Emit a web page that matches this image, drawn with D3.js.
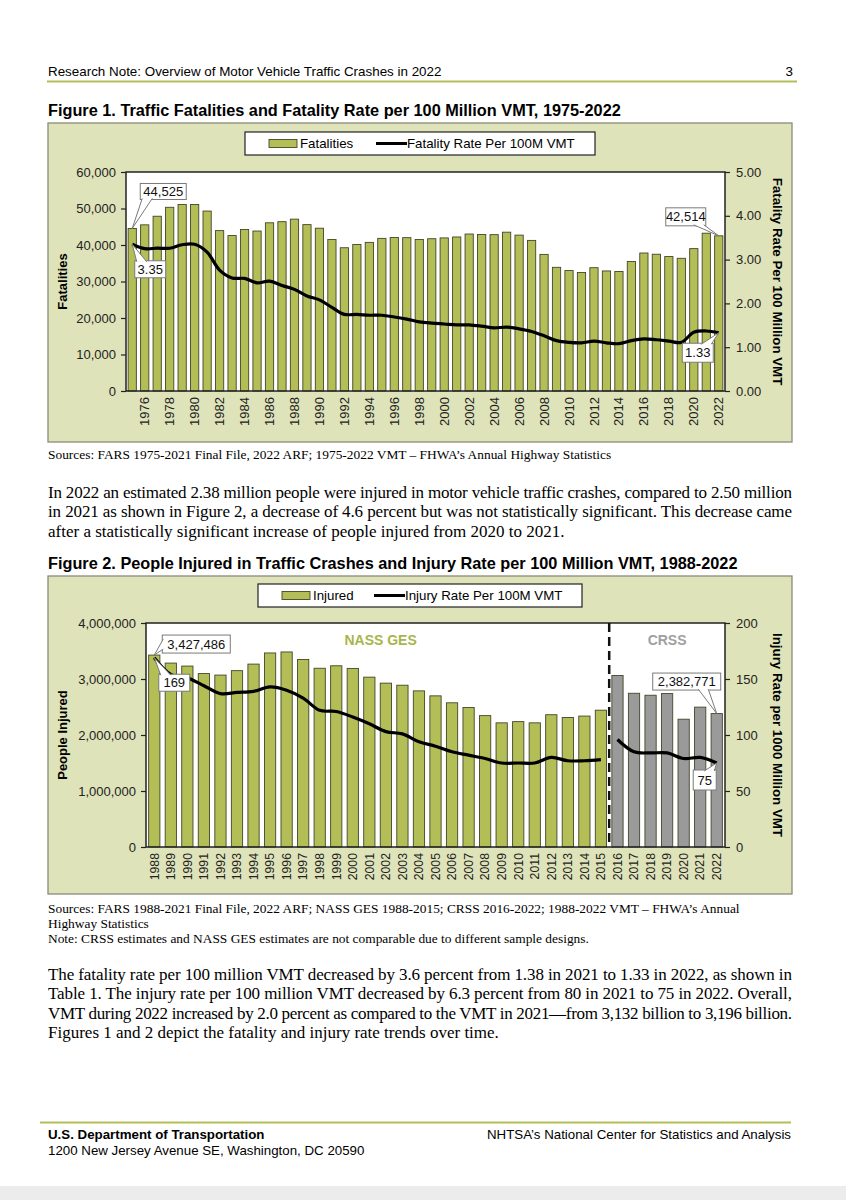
<!DOCTYPE html>
<html>
<head>
<meta charset="utf-8">
<script src="https://cdn.jsdelivr.net/npm/d3@7"></script>
<style>
  body { margin: 0; background: #fff; }
  svg { display: block; }
</style>
</head>
<body>
<div id="page"></div>
<script>
// Figure 1 data (1975-2022)
const years1 = d3.range(1975, 2023);
const fatalities = [44525, 45523, 47878, 50331, 51093, 51091, 49301, 43945, 42589, 44257,
  43825, 46087, 46390, 47087, 45582, 44599, 41508, 39250, 40150, 40716,
  41817, 42065, 42013, 41501, 41717, 41945, 42196, 43005, 42884, 42836,
  43510, 42708, 41259, 37423, 33883, 32999, 32479, 33782, 32893, 32744,
  35484, 37806, 37473, 36835, 36355, 39007, 43230, 42514];
const fatalityRate = [3.35, 3.25, 3.26, 3.26, 3.34, 3.35, 3.17, 2.76, 2.58, 2.57,
  2.47, 2.51, 2.41, 2.32, 2.17, 2.08, 1.91, 1.75, 1.75, 1.73,
  1.73, 1.69, 1.64, 1.58, 1.55, 1.53, 1.51, 1.51, 1.48, 1.44,
  1.46, 1.42, 1.36, 1.26, 1.15, 1.11, 1.10, 1.14, 1.10, 1.08,
  1.15, 1.19, 1.17, 1.14, 1.11, 1.34, 1.37, 1.33];
const fatalTicks = [0, 10000, 20000, 30000, 40000, 50000, 60000];
const fatalRateTicks = [0, 1, 2, 3, 4, 5];

// Figure 2 data (1988-2022); NASS GES to 2015, CRSS from 2016
const years2 = d3.range(1988, 2023);
const injured = [3427486, 3284000, 3231000, 3097000, 3070000, 3149000, 3266000, 3465000, 3483000, 3348000,
  3192000, 3236000, 3189000, 3033000, 2926000, 2889000, 2788000, 2699000, 2575000, 2491000,
  2346000, 2217000, 2239000, 2217000, 2362000, 2313000, 2338000, 2443000,
  3062000, 2745000, 2710000, 2740000, 2282000, 2497657, 2382771];
const injuryRate = [169, 154, 151, 144, 137, 138, 139, 143, 140, 133,
  122, 121, 116, 110, 103, 101, 94, 90, 85, 82,
  79, 75, 75, 75, 80, 77, 77, 78,
  96, 85, 84, 84, 79, 80, 75];
const injTicks = [0, 1000000, 2000000, 3000000, 4000000];
const injRateTicks = [0, 50, 100, 150, 200];
const crssStart = 2016;

const W = 846, H = 1200;
const olive = "#b3be56", barStroke = "#45452a", chartBg = "#dfe3b9", grey = "#9a9a9a";
const sans = "'Liberation Sans', Arial, sans-serif";
const serif = "'Liberation Serif', 'Times New Roman', serif";
const narrow = "'Liberation Sans Narrow', 'Arial Narrow', 'Liberation Sans', sans-serif";

const svg = d3.select("#page").append("svg")
  .attr("width", W).attr("height", H)
  .attr("viewBox", [0, 0, W, H]);

svg.append("rect").attr("width", W).attr("height", H).attr("fill", "#fff");

// page header
svg.append("text").attr("x", 48).attr("y", 76)
  .style("font-family", sans).style("font-size", "13.4px")
  .text("Research Note: Overview of Motor Vehicle Traffic Crashes in 2022");
svg.append("text").attr("x", 793).attr("y", 76).attr("text-anchor", "end")
  .style("font-family", sans).style("font-size", "13.4px").text("3");
svg.append("line").attr("x1", 47).attr("x2", 797).attr("y1", 81.5).attr("y2", 81.5)
  .attr("stroke", olive).attr("stroke-width", 2);

function figTitle(y, txt) {
  svg.append("text").attr("x", 48).attr("y", y)
    .style("font-family", sans).style("font-size", "16.3px").style("font-weight", "bold")
    .text(txt);
}

function textLines(x, y0, step, lines, size, justifyTo) {
  lines.forEach((l, i) => {
    const t = svg.append("text").attr("x", x).attr("y", y0 + i * step)
      .style("font-family", serif).style("font-size", size + "px").text(l.text);
    if (l.full && justifyTo) t.attr("textLength", justifyTo - x).attr("lengthAdjust", "spacing");
  });
}

// callout box with a pointer wedge toward (tx, ty)
function callout(g, tx, ty, dx, dy, w, h, txt) {
  const cx = tx + dx, cy = ty + dy;
  const bx = cx - w / 2, by = cy - h / 2;
  g.append("rect").attr("x", bx).attr("y", by).attr("width", w).attr("height", h)
    .attr("fill", "#fff").attr("stroke", "#7a7a7a").attr("stroke-width", 1);
  let b1, b2;
  const hw = Math.min(5, w / 4);
  if (Math.abs(dy) * w > Math.abs(dx) * h) {
    const ey = dy > 0 ? by + 1 : by + h - 1;
    const ex = Math.max(bx + hw + 2, Math.min(bx + w - hw - 2, cx - dx * 0.55));
    b1 = [ex - hw, ey]; b2 = [ex + hw, ey];
  } else {
    const ex = dx > 0 ? bx + 1 : bx + w - 1;
    const ey = Math.max(by + hw + 1, Math.min(by + h - hw - 1, cy));
    b1 = [ex, ey - hw]; b2 = [ex, ey + hw];
  }
  g.append("path")
    .attr("d", `M${b1[0]},${b1[1]}L${tx},${ty}L${b2[0]},${b2[1]}`)
    .attr("fill", "#fff").attr("stroke", "#7a7a7a").attr("stroke-width", 1);
  g.append("text").attr("x", cx).attr("y", cy + 4.6).attr("text-anchor", "middle")
    .style("font-family", sans).style("font-size", "13px").attr("fill", "#111")
    .text(txt);
}

function drawChart(cfg) {
  const { box, plot, legend } = cfg;
  const g = svg.append("g");
  g.append("rect").attr("x", box.x).attr("y", box.y).attr("width", box.w).attr("height", box.h)
    .attr("fill", chartBg).attr("stroke", "#8a8a78").attr("stroke-width", 1.3);
  g.append("rect").attr("x", plot.l).attr("y", plot.t)
    .attr("width", plot.r - plot.l).attr("height", plot.b - plot.t).attr("fill", "#fff");

  const x = d3.scaleBand().domain(cfg.years).range([plot.l, plot.r]).paddingInner(cfg.pad).paddingOuter(cfg.pad / 2);
  const yL = d3.scaleLinear().domain(d3.extent(cfg.leftTicks)).range([plot.b, plot.t]);
  const yR = d3.scaleLinear().domain(d3.extent(cfg.rightTicks)).range([plot.b, plot.t]);

  // bars
  g.append("g").selectAll("rect").data(cfg.years).join("rect")
    .attr("x", d => x(d)).attr("width", x.bandwidth())
    .attr("y", (d, i) => yL(cfg.bars[i]))
    .attr("height", (d, i) => plot.b - yL(cfg.bars[i]))
    .attr("fill", d => cfg.barColor(d))
    .attr("stroke", barStroke).attr("stroke-width", 0.9);

  // frame
  g.append("rect").attr("x", plot.l).attr("y", plot.t)
    .attr("width", plot.r - plot.l).attr("height", plot.b - plot.t)
    .attr("fill", "none").attr("stroke", "#222").attr("stroke-width", 1.5);

  if (cfg.divider) {
    const i = cfg.years.indexOf(cfg.divider);
    const dxp = (x(cfg.years[i - 1]) + x.bandwidth() + x(cfg.years[i])) / 2;
    g.append("line").attr("x1", dxp).attr("x2", dxp).attr("y1", plot.t).attr("y2", plot.b)
      .attr("stroke", "#111").attr("stroke-width", 2.5).attr("stroke-dasharray", "9,5");
  }

  // rate line(s)
  const line = d3.line()
    .x(d => x(d.year) + x.bandwidth() / 2)
    .y(d => yR(d.v))
    .curve(d3.curveCatmullRom.alpha(0.5));
  const pts = cfg.years.map((year, i) => ({ year, v: cfg.rate[i] }));
  const segs = cfg.divider
    ? [pts.filter(p => p.year < cfg.divider), pts.filter(p => p.year >= cfg.divider)]
    : [pts];
  g.append("g").selectAll("path").data(segs).join("path")
    .attr("d", line).attr("fill", "none").attr("stroke", "#000").attr("stroke-width", 3.2)
    .attr("stroke-linejoin", "round");

  // axes
  const fmtL = d3.format(",");
  const axL = g.append("g").attr("transform", `translate(${plot.l},0)`)
    .call(d3.axisLeft(yL).tickValues(cfg.leftTicks).tickFormat(fmtL).tickSize(5).tickPadding(5));
  const axR = g.append("g").attr("transform", `translate(${plot.r},0)`)
    .call(d3.axisRight(yR).tickValues(cfg.rightTicks).tickFormat(d3.format(cfg.rightFmt)).tickSize(5).tickPadding(6));
  [axL, axR].forEach(a => {
    a.select(".domain").remove();
    a.selectAll("line").attr("stroke", "#222").attr("stroke-width", 1.2);
    a.selectAll("text").style("font-family", sans).style("font-size", "13px").attr("fill", "#222");
  });
  const axB = g.append("g").attr("transform", `translate(0,${plot.b})`)
    .call(d3.axisBottom(x).tickValues(cfg.xTicks).tickSize(0).tickPadding(0));
  axB.select(".domain").remove();
  axB.selectAll("text")
    .attr("transform", "rotate(-90)").attr("x", -6).attr("y", 0).attr("dy", "0.35em")
    .style("text-anchor", "end").style("font-family", sans).style("font-size", cfg.xFont).attr("fill", "#222");

  // axis titles
  const midY = (plot.t + plot.b) / 2;
  g.append("text").attr("transform", `translate(${cfg.leftTitleX},${midY}) rotate(-90)`)
    .attr("text-anchor", "middle").style("font-family", sans).style("font-size", "13px")
    .style("font-weight", "bold").text(cfg.leftTitle);
  g.append("text").attr("transform", `translate(${cfg.rightTitleX},${midY}) rotate(90)`)
    .attr("text-anchor", "middle").style("font-family", sans).style("font-size", "13.3px")
    .style("font-weight", "bold").text(cfg.rightTitle);

  // legend
  const lg = g.append("g");
  lg.append("rect").attr("x", legend.x).attr("y", legend.y).attr("width", legend.w).attr("height", legend.h)
    .attr("fill", "#fff").attr("stroke", "#222").attr("stroke-width", 1.2);
  const ly = legend.y + legend.h / 2;
  lg.append("rect").attr("x", legend.sw).attr("y", ly - 4).attr("width", 28).attr("height", 8)
    .attr("fill", olive).attr("stroke", barStroke).attr("stroke-width", 0.9);
  lg.append("text").attr("x", legend.sw + 31).attr("y", ly + 4.7)
    .style("font-family", sans).style("font-size", "13.3px").text(cfg.barName);
  lg.append("line").attr("x1", legend.lw).attr("x2", legend.lw + 31).attr("y1", ly).attr("y2", ly)
    .attr("stroke", "#000").attr("stroke-width", 3);
  lg.append("text").attr("x", legend.lw + 31).attr("y", ly + 4.7)
    .style("font-family", sans).style("font-size", "13.3px").text(cfg.lineName);

  return { g, x, yL, yR, cx: d => x(d) + x.bandwidth() / 2 };
}

// ---------- Figure 1 ----------
figTitle(116, "Figure 1. Traffic Fatalities and Fatality Rate per 100 Million VMT, 1975-2022");
const c1 = drawChart({
  box: { x: 48, y: 123, w: 744, h: 319 },
  plot: { l: 126, t: 172, r: 725, b: 391 },
  legend: { x: 245, y: 132, w: 350, h: 23, sw: 269, lw: 376 },
  years: years1, bars: fatalities, rate: fatalityRate,
  leftTicks: fatalTicks, rightTicks: fatalRateTicks, rightFmt: ".2f",
  xTicks: years1.filter(y => y % 2 === 0),
  pad: 0.34, xFont: "13px",
  barColor: () => olive,
  leftTitle: "Fatalities", leftTitleX: 67,
  rightTitle: "Fatality Rate Per 100 Million VMT", rightTitleX: 773,
  barName: "Fatalities", lineName: "Fatality Rate Per 100M VMT"
});
{
  const n = years1.length - 1;
  callout(c1.g, c1.cx(years1[0]), c1.yL(fatalities[0]), 31, -37, 46, 16, d3.format(",")(fatalities[0]));
  callout(c1.g, c1.cx(years1[0]), c1.yR(fatalityRate[0]), 18, 25, 31, 17, fatalityRate[0].toFixed(2));
  callout(c1.g, c1.cx(years1[n]), c1.yL(fatalities[n]), -33, -19, 40, 18, d3.format(",")(fatalities[n]));
  callout(c1.g, c1.cx(years1[n]), c1.yR(fatalityRate[n]), -21, 20, 31, 19, fatalityRate[n].toFixed(2));
}

textLines(48, 459, 0, [{ text: "Sources: FARS 1975-2021 Final File, 2022 ARF; 1975-2022 VMT – FHWA’s Annual Highway Statistics" }], 13.4);

textLines(48, 498, 19.3, [
  { text: "In 2022 an estimated 2.38 million people were injured in motor vehicle traffic crashes, compared to 2.50 million", full: true },
  { text: "in 2021 as shown in Figure 2, a decrease of 4.6 percent but was not statistically significant. This decrease came", full: true },
  { text: "after a statistically significant increase of people injured from 2020 to 2021." }
], 17, 792);

// ---------- Figure 2 ----------
figTitle(569, "Figure 2. People Injured in Traffic Crashes and Injury Rate per 100 Million VMT, 1988-2022");
const c2 = drawChart({
  box: { x: 48, y: 576, w: 744, h: 318 },
  plot: { l: 146, t: 623, r: 725, b: 847 },
  legend: { x: 258, y: 584, w: 324, h: 23, sw: 282, lw: 374 },
  years: years2, bars: injured, rate: injuryRate,
  leftTicks: injTicks, rightTicks: injRateTicks, rightFmt: "d",
  xTicks: years2,
  pad: 0.32, xFont: "12.3px",
  barColor: d => d >= crssStart ? grey : olive,
  divider: crssStart,
  leftTitle: "People Injured", leftTitleX: 67,
  rightTitle: "Injury Rate per 1000 Million VMT", rightTitleX: 773,
  barName: "Injured", lineName: "Injury Rate Per 100M VMT"
});
{
  const p = { l: 146, r: 725, t: 623 };
  const divX = (c2.x(2015) + c2.x.bandwidth() + c2.x(2016)) / 2;
  c2.g.append("text").attr("x", (p.l + divX) / 2 + 3).attr("y", p.t + 22).attr("text-anchor", "middle")
    .style("font-family", sans).style("font-size", "14px").style("font-weight", "bold")
    .attr("fill", "#a9b54c").text("NASS GES");
  c2.g.append("text").attr("x", (divX + p.r) / 2).attr("y", p.t + 22).attr("text-anchor", "middle")
    .style("font-family", sans).style("font-size", "14px").style("font-weight", "bold")
    .attr("fill", "#a0a0a0").text("CRSS");
  const n = years2.length - 1;
  callout(c2.g, c2.cx(years2[0]), c2.yL(injured[0]), 42, -11, 68, 18, d3.format(",")(injured[0]));
  callout(c2.g, c2.cx(years2[0]), c2.yR(injuryRate[0]), 20, 25, 31, 17, injuryRate[0]);
  callout(c2.g, c2.cx(years2[n]), c2.yL(injured[n]), -30, -32, 68, 17, d3.format(",")(injured[n]));
  callout(c2.g, c2.cx(years2[n]), c2.yR(injuryRate[n]), -12, 17, 23, 20, injuryRate[n]);
}

textLines(48, 913, 15, [
  { text: "Sources: FARS 1988-2021 Final File, 2022 ARF; NASS GES 1988-2015; CRSS 2016-2022; 1988-2022 VMT – FHWA’s Annual" },
  { text: "Highway Statistics" },
  { text: "Note: CRSS estimates and NASS GES estimates are not comparable due to different sample designs." }
], 13.4);

textLines(48, 980, 19.3, [
  { text: "The fatality rate per 100 million VMT decreased by 3.6 percent from 1.38 in 2021 to 1.33 in 2022, as shown in", full: true },
  { text: "Table 1. The injury rate per 100 million VMT decreased by 6.3 percent from 80 in 2021 to 75 in 2022. Overall,", full: true },
  { text: "VMT during 2022 increased by 2.0 percent as compared to the VMT in 2021—from 3,132 billion to 3,196 billion.", full: true },
  { text: "Figures 1 and 2 depict the fatality and injury rate trends over time." }
], 17, 792);

// footer
svg.append("line").attr("x1", 40).attr("x2", 791).attr("y1", 1122.5).attr("y2", 1122.5)
  .attr("stroke", olive).attr("stroke-width", 2);
svg.append("text").attr("x", 48).attr("y", 1139)
  .style("font-family", narrow).style("font-size", "13.3px").style("font-weight", "bold")
  .text("U.S. Department of Transportation");
svg.append("text").attr("x", 48).attr("y", 1155)
  .style("font-family", narrow).style("font-size", "13.3px")
  .text("1200 New Jersey Avenue SE, Washington, DC 20590");
svg.append("text").attr("x", 791).attr("y", 1139).attr("text-anchor", "end")
  .style("font-family", narrow).style("font-size", "13.3px")
  .text("NHTSA’s National Center for Statistics and Analysis");
svg.append("rect").attr("x", 0).attr("y", 1186).attr("width", W).attr("height", 14).attr("fill", "#ececec");
</script>
</body>
</html>
